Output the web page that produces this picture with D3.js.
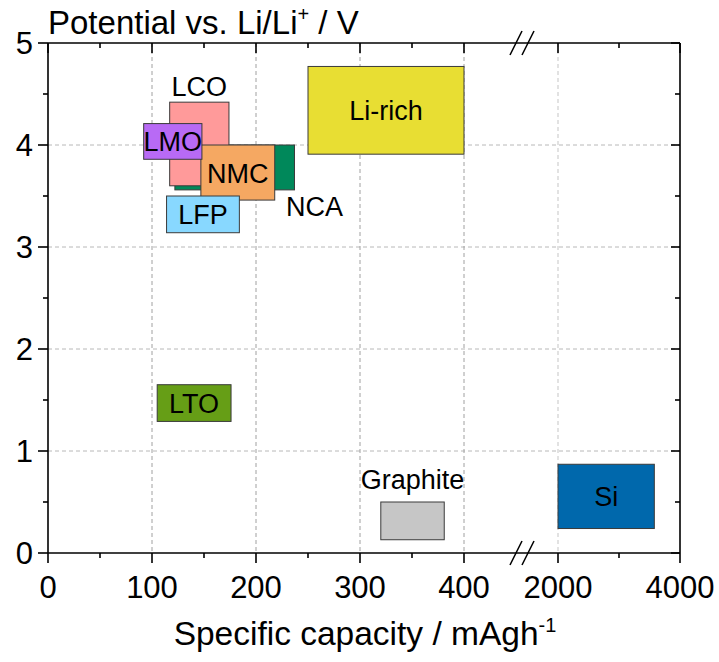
<!DOCTYPE html>
<html>
<head>
<meta charset="utf-8">
<script src="https://cdn.jsdelivr.net/npm/d3@7"></script>
<style>
  html, body { margin: 0; padding: 0; background: #fff; }
  svg { display: block; font-family: "Liberation Sans", Arial, sans-serif; }
</style>
</head>
<body>
<svg id="chart" width="719" height="662"></svg>
<script>
// ---- data (drawing order) ----
const materials = ["NCA", "LCO", "NMC", "LMO", "LFP", "Li-rich", "LTO", "Graphite", "Si"];
const capMin   = [122, 117, 147, 92, 114, 250, 105, 320, 2000];
const capMax   = [237, 174, 218, 148, 184, 400, 176, 381, 3579];
const volMin   = [3.56, 3.60, 3.46, 3.86, 3.14, 3.91, 1.29, 0.13, 0.24];
const volMax   = [4.00, 4.42, 4.00, 4.21, 3.50, 4.77, 1.65, 0.50, 0.87];
const fills    = ["#00885A", "#FF9A9A", "#F5A862", "#B86AF5", "#88D8FF", "#E8DE33", "#669E16", "#C6C6C6", "#0068AC"];
const labelAt  = ["belowRight", "above", "inside", "inside", "inside", "inside", "inside", "aboveFar", "inside"];

const xTicksLeft  = [0, 100, 200, 300, 400];
const xMinorLeft  = [50, 150, 250, 350];
const xTicksRight = [2000, 4000];
const xMinorRight = [3000];
const yTicks      = [0, 1, 2, 3, 4, 5];
const yMinor      = [0.5, 1.5, 2.5, 3.5, 4.5];

const yTitle = "Potential vs. Li/Li";
const xTitle = "Specific capacity / mAgh";

// ---- layout ----
const svg = d3.select("#chart");
const pLeft = 48, pRight = 680, pTop = 43, pBottom = 553;
const xL = d3.scaleLinear().domain([0, 400]).range([pLeft, 464]);
const xR = d3.scaleLinear().domain([2000, 4000]).range([558, pRight]);
const y  = d3.scaleLinear().domain([0, 5]).range([pBottom, pTop]);
const xPos = v => v >= 1000 ? xR(v) : xL(v);

// ---- grid ----
const grid = svg.append("g");
grid.selectAll("line.hg").data(yTicks.filter(d => d > 0 && d < 5)).enter().append("line")
  .attr("x1", pLeft).attr("x2", pRight).attr("y1", d => y(d)).attr("y2", d => y(d))
  .attr("stroke", "#b8b8b8").attr("stroke-width", 1).attr("stroke-dasharray", "4,3");
grid.selectAll("line.vg").data([100, 200, 300, 400]).enter().append("line")
  .attr("x1", d => xL(d)).attr("x2", d => xL(d)).attr("y1", pTop).attr("y2", pBottom)
  .attr("stroke", "#a0a0a0").attr("stroke-width", 1).attr("stroke-dasharray", "4,3");
grid.append("line")
  .attr("x1", xR(2000)).attr("x2", xR(2000)).attr("y1", pTop).attr("y2", pBottom)
  .attr("stroke", "#cfcfcf").attr("stroke-width", 1.2).attr("stroke-dasharray", "4,3");

// ---- boxes ----
const idx = d3.range(materials.length);
svg.append("g").selectAll("rect").data(idx).enter().append("rect")
  .attr("x", i => xPos(capMin[i]))
  .attr("y", i => y(volMax[i]))
  .attr("width", i => xPos(capMax[i]) - xPos(capMin[i]))
  .attr("height", i => y(volMin[i]) - y(volMax[i]))
  .attr("fill", i => fills[i])
  .attr("stroke", "#3a3a3a").attr("stroke-width", 1);

// ---- labels ----
svg.append("g").selectAll("text").data(idx).enter().append("text")
  .attr("font-size", 27).attr("fill", "#000")
  .attr("text-anchor", "middle")
  .attr("x", i => {
    const cx = (xPos(capMin[i]) + xPos(capMax[i])) / 2;
    if (labelAt[i] === "belowRight") return xPos(capMax[i]) + 20;
    return cx;
  })
  .attr("y", i => {
    const cy = (y(volMin[i]) + y(volMax[i])) / 2;
    if (labelAt[i] === "inside") return cy + 10;
    if (labelAt[i] === "above") return y(volMax[i]) - 6;
    if (labelAt[i] === "aboveFar") return y(volMax[i]) - 13;
    if (labelAt[i] === "belowRight") return y(volMin[i]) + 26;
    return cy;
  })
  .text(i => materials[i]);

// ---- axes ----
const axes = svg.append("g").attr("stroke", "#000").attr("stroke-width", 1.6);
axes.append("line").attr("x1", pLeft).attr("x2", pRight).attr("y1", pBottom).attr("y2", pBottom);
axes.append("line").attr("x1", pLeft).attr("x2", pRight).attr("y1", pTop).attr("y2", pTop);
axes.append("line").attr("x1", pLeft).attr("x2", pLeft).attr("y1", pTop).attr("y2", pBottom);
axes.append("line").attr("x1", pRight).attr("x2", pRight).attr("y1", pTop).attr("y2", pBottom);

function ticksX(scale, vals, len) {
  vals.forEach(v => {
    axes.append("line").attr("x1", scale(v)).attr("x2", scale(v)).attr("y1", pBottom).attr("y2", pBottom + len);
    axes.append("line").attr("x1", scale(v)).attr("x2", scale(v)).attr("y1", pTop).attr("y2", pTop + len);
  });
}
ticksX(xL, xTicksLeft, 10); ticksX(xL, xMinorLeft, 5);
ticksX(xR, xTicksRight, 10); ticksX(xR, xMinorRight, 5);
yTicks.forEach(v => {
  axes.append("line").attr("x1", pLeft - 10).attr("x2", pLeft).attr("y1", y(v)).attr("y2", y(v));
  axes.append("line").attr("x1", pRight - 9).attr("x2", pRight).attr("y1", y(v)).attr("y2", y(v));
});
yMinor.forEach(v => {
  axes.append("line").attr("x1", pLeft - 5).attr("x2", pLeft).attr("y1", y(v)).attr("y2", y(v));
  axes.append("line").attr("x1", pRight - 5).attr("x2", pRight).attr("y1", y(v)).attr("y2", y(v));
});

// break marks
[pTop, pBottom].forEach(yy => {
  [516, 528].forEach(cx => {
    axes.append("line")
      .attr("x1", cx - 6).attr("y1", yy + 12)
      .attr("x2", cx + 6).attr("y2", yy - 12);
  });
});

// tick labels
const tl = svg.append("g").attr("font-size", 31).attr("fill", "#000");
xTicksLeft.forEach(v => tl.append("text").attr("x", xL(v)).attr("y", pBottom + 45).attr("text-anchor", "middle").text(v));
xTicksRight.forEach(v => tl.append("text").attr("x", xR(v)).attr("y", pBottom + 45).attr("text-anchor", "middle").text(v));
yTicks.forEach(v => tl.append("text").attr("x", pLeft - 15).attr("y", y(v) + 11).attr("text-anchor", "end").text(v));

// axis titles
const t1 = svg.append("text").attr("x", pLeft).attr("y", 34).attr("font-size", 33).attr("fill", "#000");
t1.append("tspan").text(yTitle);
t1.append("tspan").attr("font-size", 20).attr("dy", -13).text("+");
t1.append("tspan").attr("dy", 13).text(" / V");

const t2 = svg.append("text").attr("x", 365).attr("y", 645).attr("font-size", 33.5).attr("fill", "#000").attr("text-anchor", "middle");
t2.append("tspan").text(xTitle);
t2.append("tspan").attr("font-size", 20).attr("dy", -13).text("-1");
</script>
</body>
</html>
